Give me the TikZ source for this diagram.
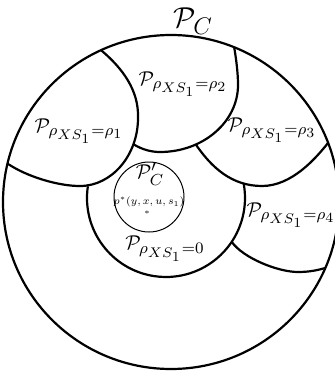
\documentclass[tikz,border=0pt]{standalone}
\DeclareMathSizes{10}{10}{8}{7}
\DeclareMathSizes{14.4}{14.4}{12}{9}
\begin{document}
\begin{tikzpicture}[x=0.5pt,y=-0.5pt,
  bd/.style={line width=1.1pt, line join=round},
  lb/.style={inner sep=0pt, font=\fontsize{10}{12}\selectfont}]
\useasboundingbox (0,0) rectangle (335,374);
\begin{scope}
\clip (171,202) ellipse [x radius=168, y radius=167];
% region borders
\draw[bd] (92,42) -- (102,51) .. controls (122,68) and (139,90) .. (138,118)
  .. controls (138,155) and (112,186) .. (80,186) coordinate[pos=0.25] (j12)
  .. controls (58,186) and (30,177) .. (13,167) -- (3,161);
\draw[bd] (j12) .. controls (142,149.5) and (151,152) .. (160,152)
  .. controls (203,152) and (238,122) .. (238,85) coordinate[pos=0.3] (j23)
  .. controls (238,70) and (235,50) .. (232,36);
\draw[bd] (j23) .. controls (212,168) and (232,186) .. (262,186)
  .. controls (292,186) and (316,158) .. (328,143) -- (336,133);
\draw[bd] (166,198) ++(188.5:79) arc[start angle=188.5, end angle=-10.5, radius=79];
\draw[bd] (166,198) ++(33.7:79) coordinate (j04)
  .. controls (243,258) and (278,272) .. (298,272)
  .. controls (315,272) and (326,268) .. (340,263);
\end{scope}
\draw[bd] (171,202) ellipse [x radius=168, y radius=167];
\draw[line width=0.5pt] (149,197) circle [radius=35];
\node[lb, font=\fontsize{14.4}{16}\selectfont] (pc) at (193,21) {$\mathcal{P}_C$};
\node[lb] (r1) at (79,131) {$\mathcal{P}_{\rho_{XS_1}=\rho_1}$};
\node[lb] (r2) at (183,84) {$\mathcal{P}_{\rho_{XS_1}=\rho_2}$};
\node[lb] (r3) at (272,130) {$\mathcal{P}_{\rho_{XS_1}=\rho_3}$};
\node[lb] (r4) at (291,215) {$\mathcal{P}_{\rho_{XS_1}=\rho_4}$};
\node[lb] (r0) at (165,249) {$\mathcal{P}_{\rho_{XS_1}=0}$};
\node[lb] (pci) at (150,174) {$\mathcal{P}'_C$};
\node[inner sep=0pt, font=\scriptsize, scale=0.75] (popt) at (149,202) {$p^*(y,x,u,s_1)$};
\node[inner sep=0pt, font=\tiny, scale=0.8] (star) at (147,213) {$\ast$};
\end{tikzpicture}
\end{document}
